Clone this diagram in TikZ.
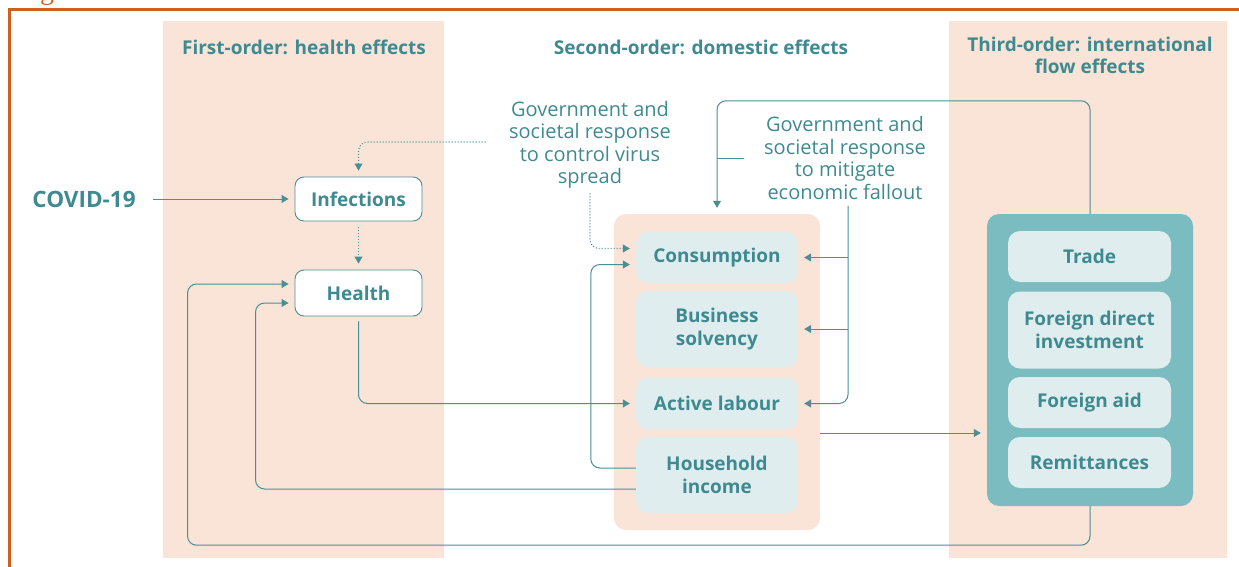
\documentclass[tikz,border=0pt]{standalone}
\usepackage{fontspec}
\setmainfont{Open Sans}
\newfontfamily\captionfont{Liberation Serif}
\usetikzlibrary{arrows.meta}

\definecolor{framecol}{HTML}{D0601C}
\definecolor{bandcol}{HTML}{F9E4D7}
\definecolor{linkcol}{HTML}{4A8F96}
\definecolor{labelcol}{HTML}{3E8A90}
\definecolor{cellcol}{HTML}{E0EDEE}
\definecolor{flowcol}{HTML}{7ABCC0}

\begin{document}
\begin{tikzpicture}[x=1pt,y=-1pt,
  every node/.style={text=labelcol,align=center},
  hdr/.style={font=\fontsize{19}{22}\selectfont\bfseries},
  note/.style={font=\fontsize{20}{22.5}\selectfont},
  outline/.style={draw=linkcol,fill=white,rounded corners=9pt,line width=0.9pt,
    minimum width=127pt,font=\fontsize{19}{23}\selectfont\bfseries},
  cell/.style={fill=cellcol,rounded corners=12pt,minimum width=162pt,
    font=\fontsize{19}{23}\selectfont\bfseries},
  arr/.style={draw=linkcol,line width=1pt,rounded corners=9pt,shorten >=6pt,
    -{Triangle[length=7pt,width=8pt]}},
  dots/.style={arr,dotted,line width=1.1pt}]
\useasboundingbox (0,0) rectangle (1239,567);

% frame and the three column bands
\draw[framecol,line width=3pt] (1245,10) -- (9,10) -- (9,575);
\node[anchor=base,text=framecol,font=\fontsize{28}{28}\selectfont\captionfont] (figcap) at (47,0) {g};
\fill[bandcol] (163,21) rectangle (444,558);
\fill[bandcol] (949,21) rectangle (1227,558);

\node[hdr] (first) at (304,47) {First-order: health effects};
\node[hdr] (second) at (701,47) {Second-order: domestic effects};
\node[hdr] (third) at (1090,55) {Third-order: international\\flow effects};

% first-order
\node[font=\fontsize{22.5}{26}\selectfont\bfseries] (covid) at (84,199) {COVID-19};
\node[outline,minimum height=44pt] (inf) at (358.5,199) {Infections};
\node[outline,minimum height=46pt] (health) at (358.5,293) {Health};

% second-order
\node[fill=bandcol,rounded corners=12pt,minimum width=206pt,minimum height=316pt] (grp) at (717,372) {};
\node[cell,minimum height=51pt] (cons) at (717,257.5) {Consumption};
\node[cell,minimum height=76pt] (bus) at (717,329) {Business\\solvency};
\node[cell,minimum height=52pt] (lab) at (717,403.5) {Active labour};
\node[cell,minimum height=76pt] (house) at (717,475) {Household\\income};

\node[note] (ctrl) at (590,145) {Government and\\societal response\\to control virus\\spread};
\node[note] (mitig) at (845,158) {Government and\\societal response\\to mitigate\\economic fallout};

% third-order
\node[fill=flowcol,rounded corners=12pt,minimum width=206pt,minimum height=292pt] (flow) at (1090,360) {};
\node[cell,minimum width=163pt,minimum height=51pt] (trade) at (1089.5,256.5) {Trade};
\node[cell,minimum width=163pt,minimum height=77pt] (fdi) at (1089.5,330) {Foreign direct\\investment};
\node[cell,minimum width=163pt,minimum height=51pt] (aid) at (1089.5,402.5) {Foreign aid};
\node[cell,minimum width=163pt,minimum height=51pt] (remit) at (1089.5,462.5) {Remittances};

% links
\draw[arr,shorten <=14pt] (covid) -- (inf);
\draw[dots] ([xshift=-20pt,yshift=3pt]ctrl.west) -| (inf);
\draw[dots,shorten <=6pt] (inf) -- (health);
\draw[dots,shorten <=1pt] (ctrl.south) |- ([yshift=9pt]cons.west);
\draw[arr] ([yshift=7pt]house.west) -- ++(-45,0) |- ([yshift=-7pt]cons.west);
\draw[arr] ([yshift=-14pt]house.west) -| ([xshift=-39pt,yshift=-10pt]health.west) -- ([yshift=-10pt]health.west);
\draw[arr] (flow.south) -- ++(0,39) -| ([xshift=-107pt,yshift=9pt]health.west) -- ([yshift=9pt]health.west);
\draw[arr,shorten <=5pt] (health.south) |- (lab.west);
\draw[arr] ([yshift=-61pt]grp.east) -- ([yshift=-61pt]grp.east -| flow.west);
\draw[arr] (flow.north) -- ++(0,-113) -| (grp.north);
\draw[linkcol,line width=1pt] ([xshift=-17pt]mitig.west) -- (mitig.west -| grp.north);
\draw[arr,shorten <=3pt] ([xshift=3pt]mitig.south) |- (lab.east);
\draw[arr] ([xshift=3pt]mitig.south |- cons.east) -- (cons.east);
\draw[arr] ([xshift=3pt]mitig.south |- bus.east) -- (bus.east);
\end{tikzpicture}
\end{document}
